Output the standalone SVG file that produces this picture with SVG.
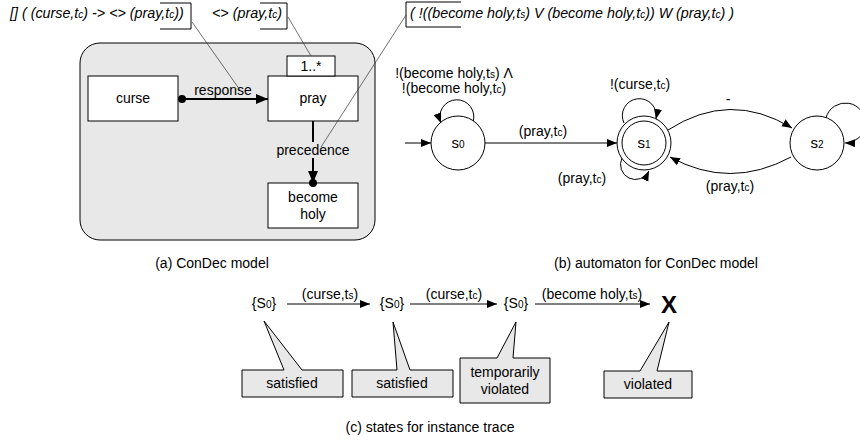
<svg xmlns="http://www.w3.org/2000/svg" width="860" height="443" viewBox="0 0 860 443">
<defs>
<marker id="ah" markerUnits="userSpaceOnUse" markerWidth="12" markerHeight="10" refX="10" refY="4" orient="auto"><path d="M0,0 L10,4 L0,8 Z" fill="#000"/></marker>
<marker id="ahb" markerUnits="userSpaceOnUse" markerWidth="14" markerHeight="12" refX="12" refY="5" orient="auto"><path d="M0,0 L12,5 L0,10 Z" fill="#000"/></marker>
<style>
text{font-family:"Liberation Sans",Arial,sans-serif;fill:#000}
.ann{font-size:14.3px;font-style:italic}
.node{font-size:14px;text-anchor:middle}
.lbl{font-size:14px;text-anchor:middle}
.cap{font-size:14px;text-anchor:middle}
.sub{font-size:10px}
.box{fill:#fff;stroke:#000;stroke-width:1}
.st{fill:#fff;stroke:#000;stroke-width:1}
.thin{fill:none;stroke:#000;stroke-width:1}
.lead{fill:none;stroke:#333;stroke-width:0.7}
.call{fill:#e8e8e8;stroke:#000;stroke-width:1}
</style>
</defs>

<!-- (a) ConDec model -->
<g id="container"><rect x="80" y="43" width="295" height="197" rx="20" ry="20" fill="#e8e8e8" stroke="#000" stroke-width="1"/></g>

<g id="ann1">
<text class="ann" x="10" y="18">[] ( (curse,t<tspan class="sub">c</tspan>) -&gt; &lt;&gt; (pray,t<tspan class="sub">c</tspan>))</text>
<path class="thin" d="M160,3 H191 V29 H160"/>
</g>
<g id="ann2">
<text class="ann" x="212" y="18">&lt;&gt; (pray,t<tspan class="sub">c</tspan>)</text>
<path class="thin" d="M260,3 H287 V29 H260"/>
</g>
<g id="ann3">
<text class="ann" x="410" y="18">( !((become holy,t<tspan class="sub">s</tspan>) V (become holy,t<tspan class="sub">c</tspan>)) W (pray,t<tspan class="sub">c</tspan>) )</text>
<path class="thin" d="M461,2 H406 V27 H461"/>
</g>

<g id="curse"><rect class="box" x="88" y="76" width="90" height="45"/><text class="node" x="133" y="103">curse</text></g>
<g id="pray"><rect class="box" x="268" y="76" width="90" height="45"/><text class="node" x="313" y="103">pray</text></g>
<g id="card"><rect class="box" x="287" y="56" width="48" height="20"/><text class="node" x="311" y="71">1..*</text></g>
<g id="holy"><rect class="box" x="268" y="183" width="90" height="45"/><text class="node" x="313" y="202">become</text><text class="node" x="313" y="219">holy</text></g>

<g id="connectors">
<line x1="182" y1="99" x2="268" y2="99" stroke="#000" stroke-width="2" marker-end="url(#ahb)"/>
<circle cx="182" cy="99" r="4" fill="#000"/>
<text class="lbl" x="223" y="95">response</text>
<line x1="313" y1="121" x2="313" y2="183" stroke="#000" stroke-width="2" marker-end="url(#ahb)"/>
<circle cx="313" cy="183" r="4" fill="#000"/>
<rect x="276" y="142" width="74" height="16" fill="#e8e8e8"/>
<text class="lbl" x="313" y="155">precedence</text>
<path class="lead" d="M192,22 L240,90"/>
<path class="lead" d="M288,17 L311,56"/>
<path class="lead" d="M406,15 L321,147"/>

<!-- automaton -->
<line x1="405" y1="143" x2="431" y2="143" class="thin" marker-end="url(#ah)"/>
<line x1="485" y1="143" x2="617" y2="143" class="thin" marker-end="url(#ah)"/>
<path class="thin" d="M473,122 A17,17 0 1 0 441,123" marker-end="url(#ah)"/>
<path class="thin" d="M624,123 A17,17 0 1 1 656,119" marker-end="url(#ah)"/>
<path class="thin" d="M622,158 A13,13 0 1 0 649,171" marker-end="url(#ah)"/>
<path class="thin" d="M668,130 Q730,90 792,128" marker-end="url(#ah)"/>
<path class="thin" d="M791,157 Q730,190 670,157" marker-end="url(#ah)"/>
<path class="thin" d="M826,118 A20,20 0 1 1 845,143" marker-end="url(#ah)"/>

<!-- trace -->
<line x1="287" y1="304" x2="370" y2="304" class="thin" marker-end="url(#ah)"/>
<line x1="410" y1="304" x2="497" y2="304" class="thin" marker-end="url(#ah)"/>
<line x1="535" y1="304" x2="650" y2="304" class="thin" marker-end="url(#ah)"/>
</g>

<g id="labels-b">
<text class="lbl" x="454" y="78">!(become holy,t<tspan class="sub">s</tspan>) Λ</text>
<text class="lbl" x="454" y="93">!(become holy,t<tspan class="sub">c</tspan>)</text>
<text class="lbl" x="543" y="136">(pray,t<tspan class="sub">c</tspan>)</text>
<text class="lbl" x="640" y="89">!(curse,t<tspan class="sub">c</tspan>)</text>
<text class="lbl" x="582" y="183">(pray,t<tspan class="sub">c</tspan>)</text>
<text class="lbl" x="728" y="104">-</text>
<text class="lbl" x="730" y="191">(pray,t<tspan class="sub">c</tspan>)</text>
</g>

<g id="s0"><circle class="st" cx="458" cy="143" r="27"/><text class="node" x="458" y="148" style="font-size:15px">s<tspan class="sub">0</tspan></text></g>
<g id="s1"><circle class="st" cx="644" cy="143" r="27"/><circle class="st" cx="644" cy="143" r="22"/><text class="node" x="644" y="148" style="font-size:15px">s<tspan class="sub">1</tspan></text></g>
<g id="s2"><circle class="st" cx="817" cy="143" r="27"/><text class="node" x="817" y="148" style="font-size:15px">s<tspan class="sub">2</tspan></text></g>

<text class="cap" x="212" y="268">(a) ConDec model</text>
<text class="cap" x="656" y="268">(b) automaton for ConDec model</text>

<!-- (c) -->
<g id="t0"><text class="lbl" x="264" y="308">{S<tspan class="sub">0</tspan>}</text></g>
<g id="t1"><text class="lbl" x="392" y="308">{S<tspan class="sub">0</tspan>}</text></g>
<g id="t2"><text class="lbl" x="516" y="308">{S<tspan class="sub">0</tspan>}</text></g>
<g id="tx"><text x="669" y="313" style="font-size:24px;font-weight:bold;text-anchor:middle">X</text></g>
<g id="labels-c">
<text class="lbl" x="330" y="299">(curse,t<tspan class="sub">s</tspan>)</text>
<text class="lbl" x="454" y="299">(curse,t<tspan class="sub">c</tspan>)</text>
<text class="lbl" x="592" y="299">(become holy,t<tspan class="sub">s</tspan>)</text>
</g>

<g id="call1"><path class="call" d="M242,370 H284 L264,321 L302,370 H343 V397 H242 Z"/><text class="node" x="292" y="388">satisfied</text></g>
<g id="call2"><path class="call" d="M352,370 H397 L393,322 L410,370 H453 V397 H352 Z"/><text class="node" x="402" y="388">satisfied</text></g>
<g id="call3"><path class="call" d="M460,358 H497 L516,322 L513,358 H550 V403 H460 Z"/><text class="node" x="505" y="377">temporarily</text><text class="node" x="505" y="394">violated</text></g>
<g id="call4"><path class="call" d="M604,371 H640 L669,322 L657,371 H692 V398 H604 Z"/><text class="node" x="648" y="389">violated</text></g>

<text class="cap" x="430" y="432">(c) states for instance trace</text>
</svg>
